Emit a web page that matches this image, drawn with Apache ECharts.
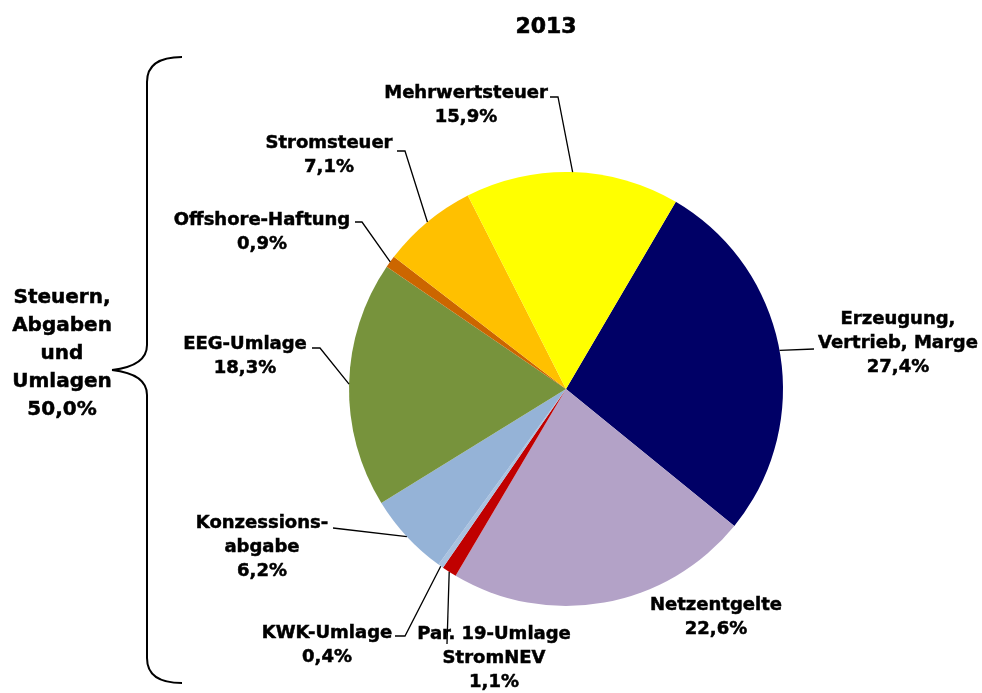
<!DOCTYPE html>
<html><head><meta charset="utf-8">
<script src="https://cdn.jsdelivr.net/npm/echarts@6/dist/echarts.min.js"></script>
<style>html,body{margin:0;padding:0;background:#fff}#c{width:982px;height:693px}</style>
</head><body><div id="c"></div>
<script>
const title = '2013';
const categories = ['Erzeugung,\nVertrieb, Marge', 'Netzentgelte', 'Par. 19-Umlage\nStromNEV', 'KWK-Umlage', 'Konzessions-\nabgabe', 'EEG-Umlage', 'Offshore-Haftung', 'Stromsteuer', 'Mehrwertsteuer'];
const values = [27.4, 22.6, 1.1, 0.4, 6.2, 18.3, 0.9, 7.1, 15.9];
const colors = ['#000066', '#B3A2C7', '#C00000', '#A9C2E0', '#95B3D7', '#77933C', '#CC6600', '#FFC000', '#FFFF00'];
const groupLabel = 'Steuern,\nAbgaben\nund\nUmlagen\n50,0%';
// label centre positions (layout only)
const labelPos = [[898, 343], [716, 617], [494, 658], [327, 645], [262, 547], [245, 356], [262, 232], [329, 155], [466, 105]];
// leader line points on the label side (layout only); null = no leader line
const leaderEnds = [[[814, 349]], null, [[447, 644]], [[395, 636], [405, 636]], [[333, 528]], [[312, 348], [320, 348]], [[355, 222], [362, 222]], [[397, 151], [405, 151]], [[550, 97], [558, 97]]];

const chart = echarts.init(document.getElementById('c'));
const fontFamily = '"DejaVu Sans", sans-serif';
const braceStyle = { stroke: '#000', fill: null, lineWidth: 2 };
const curve = (x1, y1, cx, cy, x2, y2) => ({ type: 'bezierCurve', shape: { x1, y1, cpx1: cx, cpy1: cy, x2, y2 }, style: braceStyle });
const seg = (x1, y1, x2, y2) => ({ type: 'line', shape: { x1, y1, x2, y2 }, style: braceStyle });
const baseGraphics = [
  { type: 'text', x: 546, y: 27, style: { text: title, textAlign: 'center', textVerticalAlign: 'middle',
    font: 'bold 22px "DejaVu Sans", sans-serif', fill: '#000', stroke: '#000', lineWidth: 0.6 } },
  curve(182, 57, 147, 57, 147, 82),
  seg(147, 82, 147, 345),
  curve(147, 345, 147, 366, 112, 370),
  curve(112, 370, 147, 374, 147, 395),
  seg(147, 395, 147, 658),
  curve(147, 658, 147, 683, 182, 683),
  { type: 'text', x: 62, y: 354, style: { text: groupLabel, textAlign: 'center', textVerticalAlign: 'middle',
    font: 'bold 20px "DejaVu Sans", sans-serif', lineHeight: 28, fill: '#000', stroke: '#000', lineWidth: 0.5 } }
];
chart.setOption({
  animation: false,
  graphic: baseGraphics,
  series: [{
    type: 'pie',
    center: [566, 389],
    radius: 217,
    startAngle: 59.6,
    clockwise: true,
    avoidLabelOverlap: false,
    itemStyle: { borderWidth: 0 },
    data: categories.map((n, i) => ({ name: n, value: values[i], itemStyle: { color: colors[i] } })),
    label: {
      show: true,
      fontFamily, fontWeight: 'bold', fontSize: 18, lineHeight: 24, color: '#000', align: 'center',
      textBorderColor: '#000', textBorderWidth: 0.5,
      formatter: p => p.name + '\n' + p.value.toFixed(1).replace('.', ',') + '%'
    },
    labelLine: { show: false },
    labelLayout: p => ({ x: labelPos[p.dataIndex][0], y: labelPos[p.dataIndex][1], align: 'center', verticalAlign: 'middle' })
  }]
});
// leader lines attached to each slice's outer edge at its mid-angle (from the library's pie layout)
const data = chart.getModel().getSeriesByIndex(0).getData();
const leaders = [];
leaderEnds.forEach((pts, i) => {
  if (!pts) return;
  const l = data.getItemLayout(i);
  const mid = (l.startAngle + l.endAngle) / 2;
  const edge = [l.cx + l.r * Math.cos(mid), l.cy + l.r * Math.sin(mid)];
  leaders.push({ type: 'polyline', shape: { points: pts.concat([edge]) }, style: { stroke: '#000', lineWidth: 1.3, fill: null }, z: 10 });
});
chart.setOption({ graphic: baseGraphics.concat(leaders) });
</script></body></html>
